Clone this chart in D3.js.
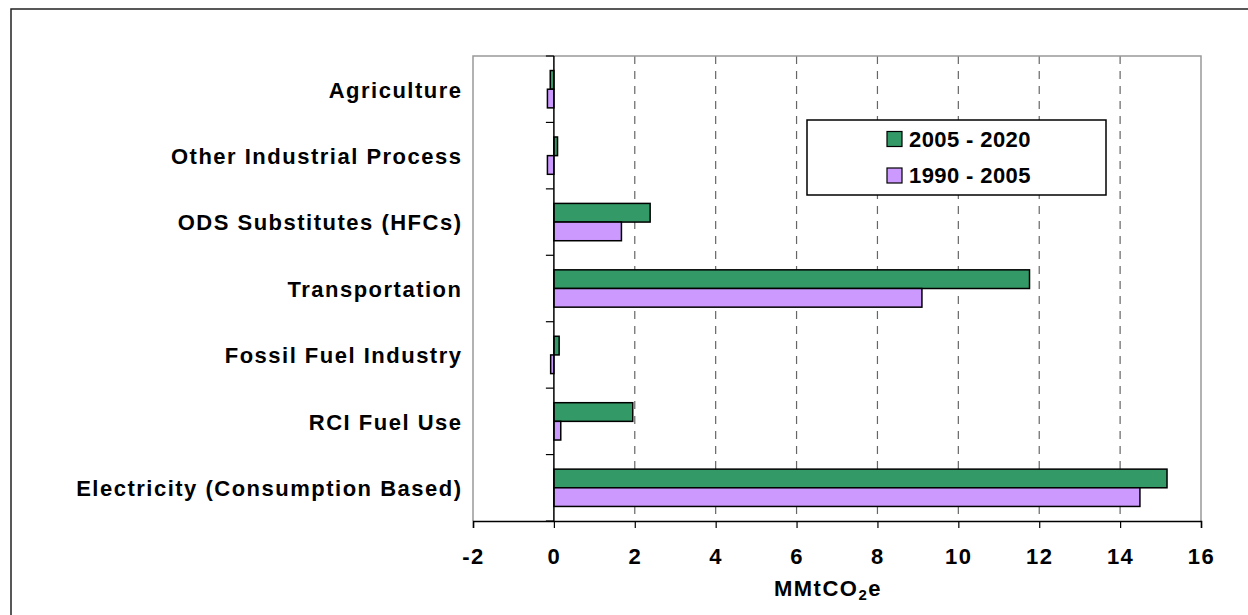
<!DOCTYPE html>
<html>
<head>
<meta charset="utf-8">
<script src="https://cdn.jsdelivr.net/npm/d3@7"></script>
<style>
  html, body { margin: 0; padding: 0; background: #fff; }
  svg { display: block; }
  text { font-family: "Liberation Sans", Arial, sans-serif; font-weight: bold; fill: #000; }
</style>
</head>
<body>
<svg id="chart" width="1248" height="615"></svg>
<script>
const categories = [
  "Agriculture",
  "Other Industrial Process",
  "ODS Substitutes (HFCs)",
  "Transportation",
  "Fossil Fuel Industry",
  "RCI Fuel Use",
  "Electricity (Consumption Based)"
];
const seriesNames = ["2005 - 2020", "1990 - 2005"];
const values2005_2020 = [-0.09, 0.09, 2.38, 11.76, 0.13, 1.95, 15.16];
const values1990_2005 = [-0.16, -0.16, 1.67, 9.10, -0.08, 0.17, 14.49];
const xTicks = [-2, 0, 2, 4, 6, 8, 10, 12, 14, 16];
const seriesColors = ["#339966", "#CC99FF"];

const svg = d3.select("#chart");
const plot = { left: 473, right: 1201, top: 56, bottom: 521 };
const FS = "22px", LS = "1.5px";

// outer frame
svg.append("rect")
  .attr("x", 11).attr("y", 9).attr("width", 1300).attr("height", 700)
  .attr("fill", "none").attr("stroke", "#222").attr("stroke-width", 1.5);

const x = d3.scaleLinear().domain([-2, 16]).range([plot.left, plot.right]);
const y = d3.scaleBand().domain(categories).range([plot.top, plot.bottom]).padding(0);
const ySub = d3.scaleBand().domain(seriesNames).range([0, y.bandwidth()])
  .paddingInner(0).paddingOuter(0.78);

// gridlines
svg.append("g").selectAll("line")
  .data(xTicks.filter(t => t > 0 && t < 16))
  .join("line")
  .attr("x1", d => x(d)).attr("x2", d => x(d))
  .attr("y1", plot.top).attr("y2", plot.bottom)
  .attr("stroke", "#666").attr("stroke-width", 1.2)
  .attr("stroke-dasharray", "8,7");

// plot border (left, top, right)
svg.append("path")
  .attr("d", `M${plot.left},${plot.bottom}V${plot.top}H${plot.right}V${plot.bottom}`)
  .attr("fill", "none").attr("stroke", "#999").attr("stroke-width", 1.5);

// bars
const series = [values2005_2020, values1990_2005];
series.forEach((vals, si) => {
  svg.append("g").selectAll("rect")
    .data(vals.map((v, i) => ({ v, c: categories[i] })))
    .join("rect")
    .attr("x", d => x(Math.min(0, d.v)))
    .attr("width", d => Math.abs(x(d.v) - x(0)))
    .attr("y", d => y(d.c) + ySub(seriesNames[si]))
    .attr("height", ySub.bandwidth())
    .attr("fill", seriesColors[si])
    .attr("stroke", "#000").attr("stroke-width", 1.5);
});

// y axis at zero
const yAxisG = svg.append("g");
yAxisG.append("line")
  .attr("x1", x(0)).attr("x2", x(0)).attr("y1", plot.top).attr("y2", plot.bottom)
  .attr("stroke", "#000").attr("stroke-width", 1.5);
const bounds = d3.range(categories.length + 1).map(i => plot.top + i * y.step());
yAxisG.selectAll("line.tk").data(bounds).join("line").attr("class", "tk")
  .attr("x1", x(0) - 8).attr("x2", x(0)).attr("y1", d => d).attr("y2", d => d)
  .attr("stroke", "#000").attr("stroke-width", 1.2);

// category labels
svg.append("g").selectAll("text")
  .data(categories).join("text")
  .attr("x", plot.left - 10.5)
  .attr("y", d => y(d) + y.bandwidth() / 2)
  .attr("dy", "0.38em")
  .attr("text-anchor", "end")
  .style("font-size", FS).style("letter-spacing", LS)
  .text(d => d);

// x axis
const xAxis = d3.axisBottom(x).tickValues(xTicks).tickSize(7).tickPadding(20)
  .tickFormat(d => d);
const xg = svg.append("g").attr("transform", `translate(0,${plot.bottom})`).call(xAxis);
xg.select(".domain").attr("stroke", "#000").attr("stroke-width", 1.5);
xg.selectAll(".tick line").attr("stroke", "#000").attr("stroke-width", 1.2);
xg.selectAll(".tick text")
  .attr("font-family", null).attr("fill", "#000")
  .style("font-size", FS).style("letter-spacing", LS);

// x axis title
const title = svg.append("text")
  .attr("x", 828).attr("y", 596)
  .attr("text-anchor", "middle")
  .style("font-size", FS).style("letter-spacing", LS);
title.append("tspan").text("MMtCO");
title.append("tspan").attr("dy", 4).style("font-size", "15px").text("2");
title.append("tspan").attr("dy", -4).text("e");

// legend
const lg = svg.append("g");
lg.append("rect").attr("x", 807).attr("y", 120).attr("width", 299).attr("height", 75)
  .attr("fill", "#fff").attr("stroke", "#000").attr("stroke-width", 1.5);
const rowsY = [139, 175.5];
seriesNames.forEach((s, i) => {
  lg.append("rect").attr("x", 887).attr("y", rowsY[i] - 7.5).attr("width", 15).attr("height", 15)
    .attr("fill", seriesColors[i]).attr("stroke", "#000").attr("stroke-width", 1.2);
  lg.append("text").attr("x", 909).attr("y", rowsY[i]).attr("dy", "0.36em")
    .style("font-size", FS).style("letter-spacing", "0.4px").text(s);
});
</script>
</body>
</html>
